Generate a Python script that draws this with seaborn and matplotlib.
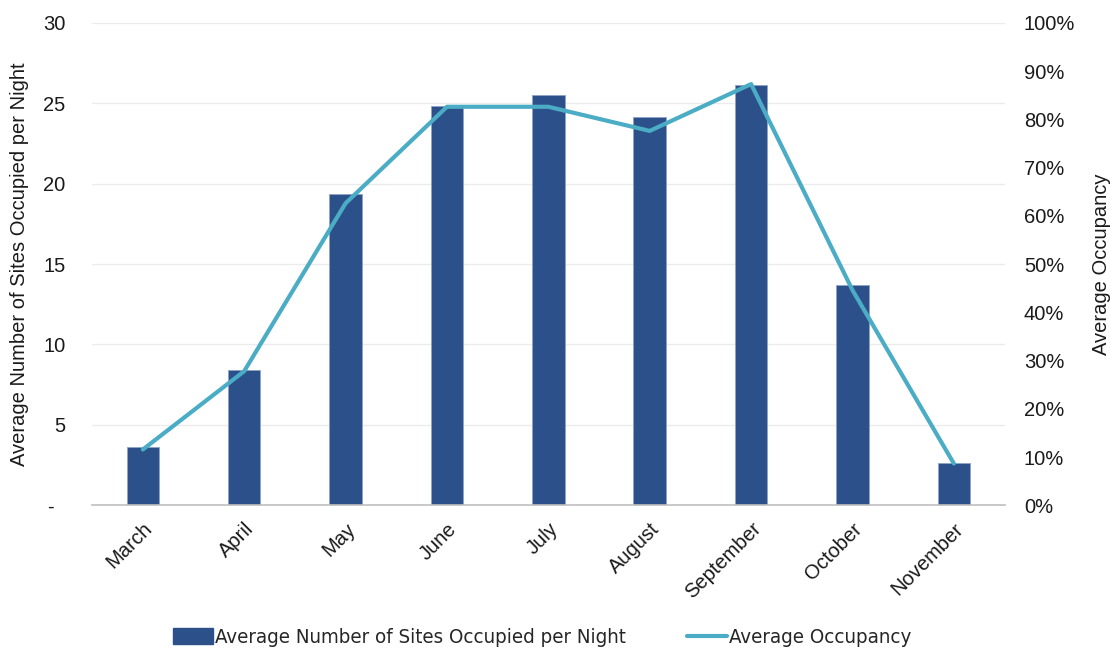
import matplotlib
matplotlib.use("Agg")
import matplotlib.pyplot as plt
import seaborn as sns
import pandas as pd
from matplotlib import font_manager
from matplotlib.ticker import FixedLocator, FixedFormatter
from matplotlib.patches import Patch
from matplotlib.lines import Line2D

months = ["March", "April", "May", "June", "July", "August",
          "September", "October", "November"]
sites_per_night = [3.63, 8.4, 19.35, 24.8, 25.5, 24.12, 26.13, 13.69, 2.63]
occupancy = [0.1156, 0.278, 0.626, 0.826, 0.826, 0.776, 0.873, 0.446, 0.0865]
left_ticks = [0, 5, 10, 15, 20, 25, 30]
left_tick_labels = ["-  ", "5", "10", "15", "20", "25", "30"]
right_ticks = [i / 10 for i in range(11)]

bar_color = "#2C5089"
line_color = "#4BACC6"
text_color = "#1a1a1a"

sns.set_theme(style="white")
plt.rcParams["font.family"] = ["Liberation Sans", "DejaVu Sans"]

# condensed face for the legend, if one is installed
legend_font = {"family": ["Liberation Sans"], "size": 14}
try:
    font_manager.findfont(font_manager.FontProperties(family="Liberation Sans Narrow"),
                          fallback_to_default=False)
    legend_font = {"family": ["Liberation Sans Narrow"], "size": 16.2}
except Exception:
    try:
        fp = font_manager.FontProperties(family="DejaVu Sans", stretch="condensed")
        path = font_manager.findfont(fp, fallback_to_default=False)
        if "Condensed" in path:
            legend_font = {"family": ["DejaVu Sans"], "stretch": "condensed", "size": 14.7}
    except Exception:
        pass

df = pd.DataFrame({"month": months, "sites": sites_per_night, "occ": occupancy})

fig = plt.figure(figsize=(11.1, 6.52), dpi=100)
ax = fig.add_axes([0.083, 0.225, 0.822, 0.74])

sns.barplot(data=df, x="month", y="sites", color=bar_color, width=0.32,
            saturation=1, edgecolor="#8FA3C8", linewidth=0.6, ax=ax, zorder=2)
ax.set_ylim(0, 30)
ax.set_xlim(-0.5, 8.5)
ax.yaxis.set_major_locator(FixedLocator(left_ticks))
ax.yaxis.set_major_formatter(FixedFormatter(left_tick_labels))
ax.grid(axis="y", color="#EBEBEB", linewidth=1.0, zorder=0)
ax.set_axisbelow(True)
for s in ["top", "right", "left"]:
    ax.spines[s].set_visible(False)
ax.spines["bottom"].set_color("#BFBFBF")
ax.spines["bottom"].set_linewidth(1.2)
ax.set_xlabel("")
ax.set_ylabel("Average Number of Sites Occupied per Night", fontsize=14.5,
              color=text_color, labelpad=10)
ax.tick_params(axis="y", labelsize=14.5, colors=text_color, length=0, pad=19)
ax.tick_params(axis="x", labelsize=14.5, colors=text_color, length=0, pad=10)
plt.setp(ax.get_xticklabels(), rotation=45, ha="right", rotation_mode="anchor")

ax2 = ax.twinx()
sns.lineplot(x=list(range(len(months))), y=occupancy, color=line_color,
             linewidth=3, ax=ax2, zorder=3)
ax2.set_ylim(0, 1)
ax2.set_xlim(-0.5, 8.5)
ax2.yaxis.set_major_locator(FixedLocator(right_ticks))
ax2.yaxis.set_major_formatter(FixedFormatter([f"{int(round(t * 100))}%" for t in right_ticks]))
ax2.grid(False)
for s in ["top", "right", "left", "bottom"]:
    ax2.spines[s].set_visible(False)
ax2.tick_params(axis="y", labelsize=14.5, colors=text_color, length=0, pad=14)
ax2.set_ylabel("Average Occupancy", fontsize=14.5, color=text_color, labelpad=12)

handles = [Patch(facecolor=bar_color, edgecolor=bar_color),
           Line2D([0], [0], color=line_color, linewidth=3)]
labels = ["Average Number of Sites Occupied per Night", "Average Occupancy"]
fig.legend(handles, labels, loc="center", bbox_to_anchor=(0.4887, 0.022),
           ncol=2, frameon=False, columnspacing=3.0,
           handlelength=1.95, handleheight=0.8, handletextpad=0.1, prop=legend_font)

fig.savefig("out.png", dpi=100)
